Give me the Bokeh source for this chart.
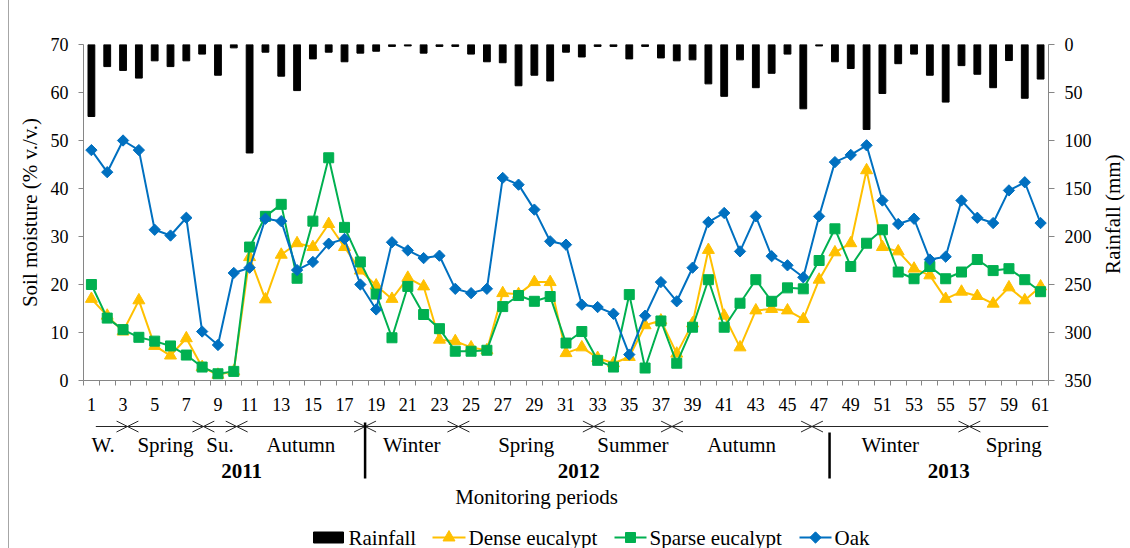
import math
from bokeh.plotting import figure
from bokeh.models import Range1d, LinearAxis, FixedTicker, Div
from bokeh.layouts import row, column
from bokeh.core.properties import value
from bokeh.embed import file_html
from bokeh.resources import INLINE

# ---------------- data ----------------
periods = list(range(1, 62))

rainfall = [75, 23, 27, 35, 17, 23, 17, 10, 32, 3.5,
            113, 8, 33, 48, 15, 8, 18, 9, 7, 2,
            1.5, 9, 2, 2, 10, 18, 19, 43, 32, 38,
            8, 13, 2, 2, 15, 2, 14, 17, 16, 41,
            54, 16, 45, 30, 10, 67, 1.5, 18, 25, 88.5,
            51, 20, 10, 32, 60, 22, 31, 45, 16.7, 56, 36]

dense = [17, 13.5, 10.2, 16.7, 7.2, 5.2, 8.8, 2.8, 1.2, 1.9,
         25.7, 16.9, 26.2, 28.6, 27.8, 32.6, 27.8, 22.9, 19.8, 17,
         21.4, 19.6, 8.5, 8.2, 6.9, 6.3, 18.2, 18, 20.5, 20.5,
         5.7, 6.9, 4.7, 3.6, 4.9, 11.5, 12.5, 5.6, 11.9, 27.2,
         13.5, 6.9, 14.6, 14.9, 14.6, 12.8, 21, 26.7, 28.6, 43.8,
         27.8, 26.9, 23.3, 21.9, 17, 18.5, 17.6, 16, 19.4, 16.7, 19.6]

sparse = [20, 13, 10.6, 9, 8.2, 7.2, 5.3, 2.8, 1.4, 1.9,
          27.8, 34.2, 36.7, 21.3, 33.2, 46.4, 31.9, 24.7, 18, 8.9,
          19.6, 13.75, 10.8, 6.1, 6.1, 6.3, 15.4, 17.7, 16.5, 17.5,
          7.8, 10.2, 4.2, 2.8, 17.9, 2.6, 12.4, 3.6, 11.1, 21,
          11.1, 16.1, 21, 16.5, 19.3, 19.1, 25, 31.6, 23.75, 28.6,
          31.4, 22.6, 21.2, 23.75, 21.2, 22.6, 25.2, 22.9, 23.3, 21, 18.5]

oak = [48, 43.4, 50, 48, 31.4, 30.2, 33.9, 10.2, 7.4, 22.4,
       23.5, 33.7, 33.2, 23, 24.7, 28.5, 29.5, 20, 14.8, 28.8,
       27.1, 25.5, 26, 19.1, 18.2, 19.1, 42.2, 40.8, 35.6, 29,
       28.3, 15.8, 15.3, 13.9, 5.4, 13.5, 20.5, 16.5, 23.5, 33,
       34.9, 26.9, 34.2, 25.9, 24, 21.5, 34.2, 45.5, 47, 49,
       37.5, 32.6, 33.7, 25.2, 25.8, 37.5, 33.9, 32.8, 39.6, 41.3, 32.8]

moisture_ticks = [0, 10, 20, 30, 40, 50, 60, 70]
rain_ticks = [0, 50, 100, 150, 200, 250, 300, 350]
period_labels = periods[::2]

season_names = ["W.", "Spring", "Su.", "Autumn", "Winter", "Spring",
                "Summer", "Autumn", "Winter", "Spring"]
season_edges = [1.28, 3.28, 8.08, 10.18, 18.3, 24.2, 32.76, 37.7, 46.55, 56.5, 61.5]
season_label_at = [1.74, 5.68, 9.13, 14.24, 21.25, 28.48, 35.23, 42.1, 51.5, 59.3]
years = ["2011", "2012", "2013"]
year_label_at = [10.5, 31.8, 55.2]
year_breaks = [18.3, 47.66]

series_names = ["Rainfall", "Dense eucalypt", "Sparse eucalypt", "Oak"]

# ---------------- styling ----------------
FONT = "Liberation Serif"
AXIS_GREY = "#868686"
YELLOW = "#FFC000"
GREEN = "#00B050"
BLUE = "#0070C0"

PAGE_W, PAGE_H = 1130, 548
EDGE_PAD = 8                 # blank strip before the chart-area edge line
INNER_W = PAGE_W - EDGE_PAD - 1
FRAME_L, FRAME_R = 83, 1048  # plot frame, page pixels
FRAME_T, FRAME_B = 44, 380
TOP_H = 420                  # height of the chart figure (frame + tick labels)
BOTTOM_H = PAGE_H - TOP_H    # season band, titles and legend
TITLE_STRIP = 35             # strip on the right holding the rainfall axis title

step = (FRAME_R - FRAME_L) / len(periods)   # pixels per period


def to_x(px):
    """page pixel -> period coordinate"""
    return 0.5 + (px - FRAME_L) / step


# ---------------- main chart ----------------
p = figure(width=INNER_W - TITLE_STRIP, height=TOP_H,
           x_range=Range1d(0.5, len(periods) + 0.5), y_range=Range1d(0, 70),
           output_backend="svg", toolbar_location=None,
           min_border_left=FRAME_L - EDGE_PAD - 1,
           min_border_right=PAGE_W - TITLE_STRIP - FRAME_R,
           min_border_top=FRAME_T, min_border_bottom=TOP_H - FRAME_B)
p.extra_y_ranges = {"rain": Range1d(350, 0)}
p.grid.visible = False
p.outline_line_color = None
p.background_fill_color = "white"
p.border_fill_color = "white"

# bottom axis: labels on odd periods, tick marks between periods
xa = p.xaxis[0]
xa.ticker = FixedTicker(ticks=period_labels,
                        minor_ticks=[k - 0.5 for k in periods] + [periods[-1] + 0.5])
xa.major_label_overrides = {t: str(t) for t in period_labels}
xa.major_tick_out = 0
xa.major_tick_in = 0
xa.minor_tick_out = 5
xa.minor_tick_in = 0
xa.minor_tick_line_color = AXIS_GREY
xa.axis_line_color = AXIS_GREY
xa.major_label_standoff = 12

ya = p.yaxis[0]
ya.ticker = FixedTicker(ticks=moisture_ticks)
ya.minor_tick_line_color = None
ya.major_tick_out = 5
ya.major_tick_in = 0
ya.major_tick_line_color = AXIS_GREY
ya.axis_line_color = AXIS_GREY
ya.major_label_standoff = 10
ya.axis_label = "Soil moisture (% v./v.)"
ya.axis_label_standoff = 6

ra = LinearAxis(y_range_name="rain", ticker=FixedTicker(ticks=rain_ticks))
ra.minor_tick_line_color = None
ra.major_tick_out = 6
ra.major_tick_in = 0
ra.major_tick_line_color = AXIS_GREY
ra.axis_line_color = AXIS_GREY
ra.major_label_standoff = 10
p.add_layout(ra, "right")

for ax in (xa, ya, ra):
    ax.major_label_text_font = FONT
    ax.major_label_text_font_size = "18px"
    ax.major_label_text_color = "black"
    ax.axis_label_text_font = FONT
    ax.axis_label_text_font_size = "21px"
    ax.axis_label_text_font_style = "normal"
    ax.axis_label_text_color = "black"

# rainfall columns hang from the top of the frame (reversed right axis)
p.vbar(x=periods, top=0, bottom=rainfall, width=0.43, y_range_name="rain",
       fill_color="black", line_color="black")

p.line(periods, dense, line_color=YELLOW, line_width=2)
p.scatter(periods, dense, marker="triangle", size=12,
          fill_color=YELLOW, line_color=YELLOW)
p.line(periods, sparse, line_color=GREEN, line_width=2)
p.scatter(periods, sparse, marker="square", size=10,
          fill_color=GREEN, line_color=GREEN)
p.line(periods, oak, line_color=BLUE, line_width=2)
p.scatter(periods, oak, marker="square", angle=math.pi / 4, size=8,
          fill_color=BLUE, line_color=BLUE)

# ---------------- right-hand axis title (reads bottom to top) ----------------
t = figure(width=TITLE_STRIP, height=TOP_H,
           x_range=Range1d(0, TITLE_STRIP), y_range=Range1d(TOP_H, 0),
           output_backend="svg", toolbar_location=None,
           x_axis_location=None, y_axis_location=None,
           min_border_left=0, min_border_right=0,
           min_border_top=0, min_border_bottom=0)
t.grid.visible = False
t.outline_line_color = None
t.text(x=[TITLE_STRIP / 2], y=[(FRAME_T + FRAME_B) / 2], text=["Rainfall (mm)"],
       angle=math.pi / 2, text_font=value(FONT), text_font_size=value("21px"),
       text_color="black", text_align="center", text_baseline="middle")

# ---------------- season band, titles and legend ----------------
q = figure(width=INNER_W, height=BOTTOM_H, x_range=p.x_range,
           y_range=Range1d(PAGE_H, TOP_H),   # y is measured in page pixels
           output_backend="svg", toolbar_location=None,
           x_axis_location=None, y_axis_location=None,
           min_border_left=FRAME_L - EDGE_PAD - 1,
           min_border_right=PAGE_W - FRAME_R,
           min_border_top=0, min_border_bottom=0)
q.grid.visible = False
q.outline_line_color = None

BAND_Y, SEASON_Y, YEAR_Y, TITLE_Y, LEGEND_Y = 426, 444, 470, 496, 537
INK = "#262626"

q.segment(x0=[season_edges[0]], y0=[BAND_Y], x1=[season_edges[-1]], y1=[BAND_Y],
          line_color=INK, line_width=1)

head_dx = 11 / step
head_dy = 5.5
hx0, hy0, hx1, hy1 = [], [], [], []
for b in season_edges[1:-1]:
    for sx in (-1, 1):
        for sy in (-1, 1):
            hx0.append(b)
            hy0.append(BAND_Y)
            hx1.append(b + sx * head_dx)
            hy1.append(BAND_Y + sy * head_dy)
q.segment(x0=hx0, y0=hy0, x1=hx1, y1=hy1, line_color=INK, line_width=1)

q.segment(x0=year_breaks, y0=[422, 432], x1=year_breaks, y1=[478, 478],
          line_color="black", line_width=2.5)

q.text(x=season_label_at, y=[SEASON_Y] * len(season_names), text=season_names,
       text_font=value(FONT), text_font_size=value("21px"), text_color="black",
       text_align="center", text_baseline="middle")
q.text(x=year_label_at, y=[YEAR_Y] * len(years), text=years,
       text_font=value(FONT), text_font_size=value("21px"), text_font_style="bold",
       text_color="black", text_align="center", text_baseline="middle")
q.text(x=[to_x(536)], y=[TITLE_Y], text=["Monitoring periods"],
       text_font=value(FONT), text_font_size=value("21px"), text_color="black",
       text_align="center", text_baseline="middle")

# legend keys
q.rect(x=[to_x(328)], y=[LEGEND_Y], width=30 / step, height=11,
       fill_color="black", line_color="black")
key_spans = [(432, 465), (614, 646), (799, 831)]
key_styles = [(YELLOW, "triangle", 12, 0), (GREEN, "square", 10, 0),
              (BLUE, "square", 8, math.pi / 4)]
for (a, b), (col, mk, sz, ang) in zip(key_spans, key_styles):
    q.segment(x0=[to_x(a)], y0=[LEGEND_Y], x1=[to_x(b)], y1=[LEGEND_Y],
              line_color=col, line_width=2)
    q.scatter(x=[to_x((a + b) / 2)], y=[LEGEND_Y], marker=mk, size=sz, angle=ang,
              fill_color=col, line_color=col)
label_left = [348, 468, 649, 834]
q.text(x=[to_x(v) for v in label_left], y=[LEGEND_Y] * 4, text=series_names,
       text_font=value(FONT), text_font_size=value("21px"), text_color="black",
       text_align="left", text_baseline="middle")

# ---------------- page ----------------
pad = Div(text="", width=EDGE_PAD, height=PAGE_H, margin=0)
edge = Div(text="", width=1, height=PAGE_H, margin=0,
           styles={"background-color": "#a6a6a6"})
layout = row(pad, edge, column(row(p, t, spacing=0), q, spacing=0), spacing=0)

open("out.html", "w").write(file_html(layout, INLINE))
